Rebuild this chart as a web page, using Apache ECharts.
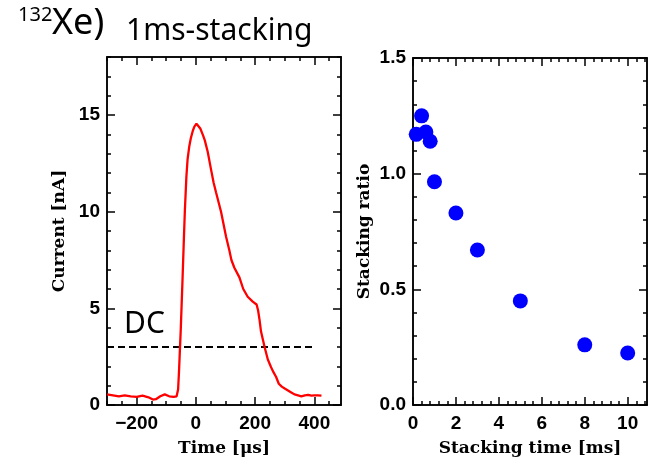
<!DOCTYPE html>
<html>
<head>
<meta charset="utf-8">
<script src="https://cdn.jsdelivr.net/npm/echarts@6.0.0/dist/echarts.min.js"></script>
<style>
  html, body { margin: 0; padding: 0; background: #fff; }
  #chart { width: 657px; height: 463px; }
</style>
</head>
<body>
<div id="chart"></div>
<script>
// pulse current (left panel)
const timeUs = [-300, -280, -260, -240, -220, -200, -180, -160, -145, -135, -120, -105, -90, -75, -65,
  -60, -57, -51, -45, -40, -37, -32, -28, -22, -17, -10, -5, 2, 8, 15, 23, 30, 40, 51, 60, 68, 85,
  102, 113, 120, 130, 147, 160, 175, 192, 205, 210, 215, 220, 232, 243, 254, 262, 271, 280, 290,
  300, 311, 322, 333, 345, 356, 368, 379, 390, 400, 412, 424]
const currentNA = [0.55, 0.5, 0.45, 0.5, 0.45, 0.42, 0.48, 0.4, 0.28, 0.3, 0.45, 0.55, 0.45, 0.42, 0.45,
  0.8, 1.7, 3.9, 6.5, 8.8, 10.1, 11.8, 12.7, 13.4, 13.8, 14.2, 14.4, 14.55, 14.5, 14.3, 14.0, 13.7, 13.1, 12.2, 11.5, 11.0, 10.0,
  8.7, 8.0, 7.5, 7.1, 6.6, 6.0, 5.6, 5.35, 5.2, 4.9, 4.4, 3.8, 3.0, 2.35, 1.95, 1.7, 1.45, 1.1, 0.95,
  0.85, 0.75, 0.65, 0.55, 0.5, 0.45, 0.5, 0.52, 0.48, 0.5, 0.5, 0.48]
const dcLevel = 3
const dcTimeRange = [-300, 405]

// stacking ratio (right panel)
const stackTimeMs = [0.15, 0.4, 0.6, 0.8, 1, 2, 3, 5, 8, 10]
const stackRatio = [1.17, 1.25, 1.18, 1.14, 0.965, 0.83, 0.67, 0.45, 0.26, 0.225]

// tick labels
const timeTicks = [-200, 0, 200, 400]
const currentTicks = [0, 5, 10, 15]
const stackTimeTicks = [0, 2, 4, 6, 8, 10]
const ratioTicks = [0, 0.5, 1.0, 1.5]

function steps(a, b, s) {
    let out = []
    for (let i = 0; a + i * s <= b + 1e-9; i++) out.push(+(a + i * s).toFixed(4))
    return out
}

const black = '#000'
const labelFont = { fontFamily: 'Liberation Sans', fontWeight: 'bold', fontSize: 19, color: black }
const nameFont = { fontFamily: 'DejaVu Serif', fontWeight: 'bold', fontSize: 17, color: black }

// one frame side: line + ticks of one length
function axis(grid, pos, min, max, ticks, len, extra) {
    return Object.assign({
        gridIndex: grid,
        position: pos,
        type: 'value',
        min: min,
        max: max,
        axisLine: { show: true, onZero: false, lineStyle: { color: black, width: 1.5 } },
        axisTick: { show: true, inside: true, length: len, customValues: ticks, lineStyle: { color: black, width: 1.5 } },
        axisLabel: { show: false },
        splitLine: { show: false }
    }, extra || {})
}

const xAxes = [
    // left panel
    axis(0, 'bottom', -300, 490, timeTicks, 8, {
        axisLabel: Object.assign({ show: true, customValues: timeTicks, margin: 9,
            formatter: v => (v < 0 ? '\u2212' + Math.abs(v) : '' + v) }, labelFont),
        name: 'Time [\u03bcs]', nameLocation: 'middle', nameGap: 35, nameTextStyle: nameFont
    }),
    axis(0, 'bottom', -300, 490, steps(-300, 490, 50), 4),
    axis(0, 'top', -300, 490, timeTicks, 8),
    axis(0, 'top', -300, 490, steps(-300, 490, 50), 4),
    // right panel
    axis(1, 'bottom', 0, 10.9, stackTimeTicks, 8, {
        axisLabel: Object.assign({ show: true, customValues: stackTimeTicks, margin: 9 }, labelFont),
        name: 'Stacking time [ms]', nameLocation: 'middle', nameGap: 35, nameTextStyle: nameFont
    }),
    axis(1, 'bottom', 0, 10.9, steps(0, 10.9, 0.4), 4),
    axis(1, 'top', 0, 10.9, stackTimeTicks, 8),
    axis(1, 'top', 0, 10.9, steps(0, 10.9, 0.4), 4)
]

const yAxes = [
    axis(0, 'left', 0, 18, currentTicks, 8, {
        axisLabel: Object.assign({ show: true, customValues: currentTicks, margin: 7 }, labelFont),
        name: 'Current [nA]', nameLocation: 'middle', nameGap: 39, nameTextStyle: nameFont
    }),
    axis(0, 'left', 0, 18, steps(0, 18, 1), 4),
    axis(0, 'right', 0, 18, currentTicks, 8),
    axis(0, 'right', 0, 18, steps(0, 18, 1), 4),
    axis(1, 'left', 0, 1.5, ratioTicks, 8, {
        axisLabel: Object.assign({ show: true, customValues: ratioTicks, margin: 7,
            formatter: v => v.toFixed(1) }, labelFont),
        name: 'Stacking ratio', nameLocation: 'middle', nameGap: 40, nameTextStyle: nameFont
    }),
    axis(1, 'left', 0, 1.5, steps(0, 1.5, 0.1), 4),
    axis(1, 'right', 0, 1.5, ratioTicks, 8),
    axis(1, 'right', 0, 1.5, steps(0, 1.5, 0.1), 4)
]

const chart = echarts.init(document.getElementById('chart'))
chart.setOption({
    animation: false,
    backgroundColor: '#fff',
    grid: [
        { left: 107, top: 57, width: 234, height: 348 },
        { left: 413, top: 58, width: 234, height: 347 }
    ],
    xAxis: xAxes,
    yAxis: yAxes,
    graphic: [
        { type: 'text', left: 18, top: 5, style: { text: '132', font: '20px "Noto Sans"', fill: black } },
        { type: 'text', left: 52, top: 6, style: { text: 'Xe)', font: '36px "Noto Sans"', fill: black } },
        { type: 'text', left: 126, top: 16, style: { text: '1ms-stacking', font: '30px "Noto Sans"', fill: black } },
        { type: 'text', left: 124, top: 309, style: { text: 'DC', font: '30px "Noto Sans"', fill: black } }
    ],
    series: [
        {
            type: 'line',
            xAxisIndex: 0, yAxisIndex: 0,
            data: timeUs.map((t, i) => [t, currentNA[i]]),
            showSymbol: false,
            lineStyle: { color: '#ff0000', width: 2.3 },
            z: 3
        },
        {
            type: 'line',
            xAxisIndex: 0, yAxisIndex: 0,
            data: dcTimeRange.map(t => [t, dcLevel]),
            showSymbol: false,
            lineStyle: { color: black, width: 1.8, type: [7, 4] },
            z: 2
        },
        {
            type: 'scatter',
            xAxisIndex: 4, yAxisIndex: 4,
            data: stackTimeMs.map((t, i) => [t, stackRatio[i]]),
            symbolSize: 15,
            itemStyle: { color: '#0000ff', opacity: 1 }
        }
    ]
})
</script>
</body>
</html>
